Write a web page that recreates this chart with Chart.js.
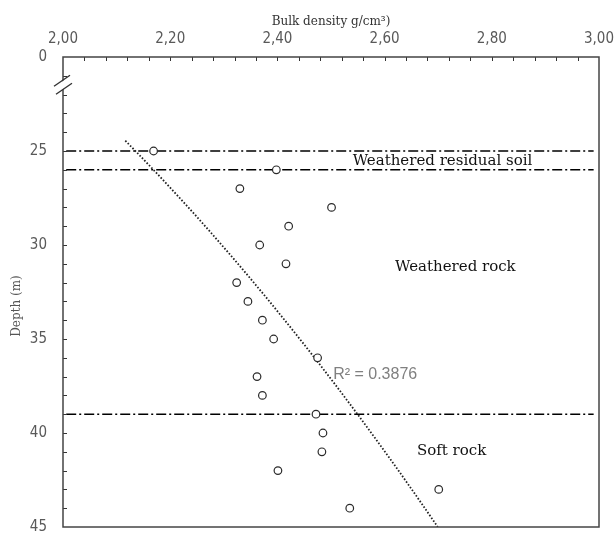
<!DOCTYPE html>
<html>
<head>
<meta charset="utf-8">
<script src="https://cdn.jsdelivr.net/npm/chart.js@4/dist/chart.umd.min.js"></script>
<style>
  html, body { margin: 0; padding: 0; background: #fff; }
  #chart { display: block; }
</style>
</head>
<body>
<canvas id="chart" width="614" height="533"></canvas>
<script>
// Depth (m) and measured bulk density (g/cm3)
const depth = [25, 26, 27, 28, 29, 30, 31, 32, 33, 34, 35, 36, 37, 38, 39, 40, 41, 42, 43, 44];
const bulkDensity = [2.169, 2.398, 2.330, 2.501, 2.421, 2.367, 2.416, 2.324, 2.345, 2.372,
                     2.393, 2.475, 2.362, 2.372, 2.472, 2.485, 2.483, 2.401, 2.701, 2.535];

// Layer boundaries (m)
const boundaryDepths = [25, 26, 39];

// Axis ticks
const xTickValues = [2.0, 2.2, 2.4, 2.6, 2.8, 3.0];
const xTickLabels = ['2,00', '2,20', '2,40', '2,60', '2,80', '3,00'];
const yTickValues = [20, 25, 30, 35, 40, 45];
const yTickLabels = ['0', '25', '30', '35', '40', '45'];

const zoneNames = ['Weathered residual soil', 'Weathered rock', 'Soft rock'];
const rSquaredText = 'R\u00b2 = 0.3876';

// Power trendline (least squares on ln-ln, same as a spreadsheet "power" trendline)
const lx = bulkDensity.map(Math.log);
const ly = depth.map(Math.log);
const mx = lx.reduce((a, b) => a + b, 0) / lx.length;
const my = ly.reduce((a, b) => a + b, 0) / ly.length;
let sxy = 0, sxx = 0;
lx.forEach((v, i) => { sxy += (v - mx) * (ly[i] - my); sxx += (v - mx) * (v - mx); });
const powB = sxy / sxx;
const powA = Math.exp(my - powB * mx);
const densityAt = d => Math.pow(d / powA, 1 / powB);

const trendPoints = [];
const xStart = densityAt(24.45), xEnd = densityAt(45);
for (let i = 0; i <= 40; i++) {
    const x = xStart + (xEnd - xStart) * i / 40;
    trendPoints.push({ x: x, y: powA * Math.pow(x, powB) });
}

const serif = '"DejaVu Serif", "Liberation Serif", serif';
const narrow = '"Liberation Sans Narrow", "DejaVu Sans Condensed", "Liberation Sans", sans-serif';

// Frame, inward ticks, axis break and text labels
const decor = {
    id: 'decor',
    afterDraw(chart) {
        const ctx = chart.ctx;
        const area = chart.chartArea;
        const xs = chart.scales.x;
        const ys = chart.scales.y;
        ctx.save();

        // inward tick marks
        ctx.strokeStyle = '#333';
        ctx.lineWidth = 1;
        ctx.beginPath();
        for (let i = 1; i < 25; i++) {
            const px = Math.round(xs.getPixelForValue(2 + i * 0.04)) + 0.5;
            ctx.moveTo(px, area.top);
            ctx.lineTo(px, area.top + 4);
        }
        for (let d = 21; d < 45; d++) {
            const py = Math.round(ys.getPixelForValue(d)) + 0.5;
            ctx.moveTo(area.left, py);
            ctx.lineTo(area.left + 4, py);
        }
        ctx.stroke();

        // frame
        ctx.strokeStyle = '#444';
        ctx.lineWidth = 1.5;
        ctx.strokeRect(area.left, area.top, area.right - area.left, area.bottom - area.top);

        // axis break
        const bx = area.left, by = ys.getPixelForValue(21.45);
        ctx.fillStyle = '#fff';
        ctx.beginPath();
        ctx.moveTo(bx - 8, by + 2);
        ctx.lineTo(bx + 7, by - 8);
        ctx.lineTo(bx + 9, by - 1);
        ctx.lineTo(bx - 6, by + 9);
        ctx.closePath();
        ctx.fill();
        ctx.strokeStyle = '#333';
        ctx.lineWidth = 1.4;
        ctx.beginPath();
        ctx.moveTo(bx - 9, by + 2);
        ctx.lineTo(bx + 7, by - 9);
        ctx.moveTo(bx - 7, by + 10);
        ctx.lineTo(bx + 9, by - 1);
        ctx.stroke();

        // zone labels
        ctx.fillStyle = '#111';
        ctx.font = '15px ' + serif;
        ctx.textAlign = 'center';
        ctx.textBaseline = 'middle';
        ctx.fillText(zoneNames[0], xs.getPixelForValue(2.708), ys.getPixelForValue(25.55));
        ctx.fillText(zoneNames[1], xs.getPixelForValue(2.732), ys.getPixelForValue(31.17));
        ctx.fillText(zoneNames[2], xs.getPixelForValue(2.725), ys.getPixelForValue(40.96));

        // R squared
        ctx.fillStyle = '#808080';
        ctx.font = '16px "Liberation Sans", Arial, sans-serif';
        ctx.textAlign = 'left';
        ctx.fillText(rSquaredText, xs.getPixelForValue(2.504), ys.getPixelForValue(36.88));

        // y axis title
        ctx.fillStyle = '#555';
        ctx.font = '12px ' + serif;
        ctx.textAlign = 'center';
        ctx.translate(17, 306);
        ctx.rotate(-Math.PI / 2);
        ctx.fillText('Depth (m)', 0, 0);
        ctx.restore();
    }
};

const boundarySets = boundaryDepths.map(d => ({
    data: [{ x: 2.006, y: d }, { x: 2.99, y: d }],
    showLine: true,
    borderColor: '#000',
    borderWidth: 1.4,
    borderDash: [10, 3, 2, 3],
    pointRadius: 0
}));

new Chart(document.getElementById('chart'), {
    type: 'scatter',
    data: {
        datasets: [
            {
                label: 'Bulk density',
                data: depth.map((d, i) => ({ x: bulkDensity[i], y: d })),
                pointStyle: 'circle',
                pointRadius: 3.8,
                pointBorderWidth: 1.2,
                borderColor: '#2a2a2a',
                backgroundColor: '#fff'
            },
            {
                label: 'Trend',
                data: trendPoints,
                showLine: true,
                borderColor: '#222',
                borderWidth: 1.8,
                borderDash: [1.6, 1.8],
                pointRadius: 0
            },
            ...boundarySets
        ]
    },
    options: {
        responsive: false,
        animation: false,
        layout: { padding: { left: 0, top: 0, right: 15, bottom: 6 } },
        plugins: {
            legend: { display: false },
            tooltip: { enabled: false }
        },
        scales: {
            x: {
                type: 'linear',
                position: 'top',
                min: 2,
                max: 3,
                afterBuildTicks: scale => { scale.ticks = xTickValues.map(v => ({ value: v })); },
                afterFit: scale => {
                    scale.height = 57;
                    scale.paddingLeft = 0;
                    scale.paddingRight = 0;
                },
                grid: { display: false, drawTicks: false },
                border: { display: false },
                ticks: {
                    autoSkip: false,
                    maxRotation: 0,
                    padding: 9,
                    color: '#595959',
                    font: { family: narrow, size: 15 },
                    callback: v => xTickLabels[xTickValues.indexOf(v)]
                },
                title: {
                    display: true,
                    text: 'Bulk density g/cm\u00b3)',
                    color: '#333',
                    font: { family: serif, size: 12 },
                    padding: { top: 15, bottom: 0 }
                }
            },
            y: {
                type: 'linear',
                reverse: true,
                min: 20,
                max: 45,
                afterBuildTicks: scale => { scale.ticks = yTickValues.map(v => ({ value: v })); },
                afterFit: scale => {
                    scale.width = 63;
                    scale.paddingTop = 0;
                    scale.paddingBottom = 0;
                },
                grid: { display: false, drawTicks: false },
                border: { display: false },
                ticks: {
                    autoSkip: false,
                    padding: 16,
                    color: '#595959',
                    font: { family: narrow, size: 15 },
                    callback: v => yTickLabels[yTickValues.indexOf(v)]
                }
            }
        }
    },
    plugins: [decor]
});
</script>
</body>
</html>
